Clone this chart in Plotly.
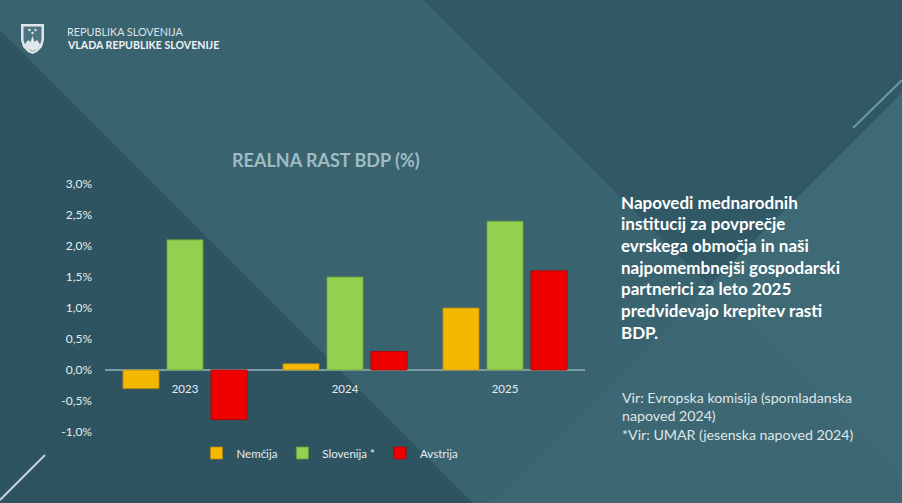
import plotly.graph_objects as go

# ---------------- data ----------------
years = ["2023", "2024", "2025"]
nemcija = [-0.3, 0.1, 1.0]
slovenija = [2.1, 1.5, 2.4]
avstrija = [-0.8, 0.3, 1.6]
series_names = ["Nemčija", "Slovenija *", "Avstrija"]
ytick_vals = [-1.0, -0.5, 0.0, 0.5, 1.0, 1.5, 2.0, 2.5, 3.0]
ytick_text = ["-1,0%", "-0,5%", "0,0%", "0,5%", "1,0%", "1,5%", "2,0%", "2,5%", "3,0%"]

title_text = "REALNA RAST BDP (%)"
header_lines = ["REPUBLIKA SLOVENIJA", "VLADA REPUBLIKE SLOVENIJE"]
side_lines = ["Napovedi mednarodnih", "institucij za povprečje", "evrskega območja in naši",
              "najpomembnejši gospodarski", "partnerici za leto 2025",
              "predvidevajo krepitev rasti", "BDP."]
source_lines = ["Vir: Evropska komisija (spomladanska", "napoved 2024)",
                "*Vir: UMAR (jesenska napoved 2024)"]

# ---------------- layout geometry ----------------
W, H = 902, 503
L, R, T, B = 105, 585, 184, 432


def px(x):
    return (x - L) / (R - L)


def py(y):
    return (B - y) / (B - T)


def poly(points):
    s = "M " + " L ".join(f"{px(x):.5f},{py(y):.5f}" for x, y in points) + " Z"
    return s


BASE = "#3a6370"
DARK = "#2f5461"
DARK2 = "#315865"
LIGHT = "#3e6a76"
LIGHT2 = "#3c6773"

fig = go.Figure()

colors = ["#f5b800", "#92d050", "#ee0000"]
lines = ["#b58a10", "#6c9a3a", "#b00000"]
for name, vals, c, lc in zip(series_names, [nemcija, slovenija, avstrija], colors, lines):
    fig.add_trace(go.Bar(
        x=years, y=vals, name=name,
        marker=dict(color=c, line=dict(color=lc, width=0.8)),
        hoverinfo="x+y+name",
    ))

shapes = []
# background polygons
shapes.append(dict(type="path", xref="paper", yref="paper", layer="below",
                   path=poly([(0, 30), (473, 503), (0, 503)]), fillcolor=DARK, line=dict(width=0)))
shapes.append(dict(type="path", xref="paper", yref="paper", layer="below",
                   path=poly([(423, 0), (902, 0), (902, 93), (709, 286)]), fillcolor=DARK2, line=dict(width=0)))
shapes.append(dict(type="path", xref="paper", yref="paper", layer="below",
                   path=poly([(709, 286), (902, 93), (902, 479)]), fillcolor=LIGHT, line=dict(width=0)))
shapes.append(dict(type="path", xref="paper", yref="paper", layer="below",
                   path=poly([(709, 286), (902, 479), (902, 503), (492, 503)]), fillcolor=LIGHT2, line=dict(width=0)))
# decorative lines
shapes.append(dict(type="line", xref="paper", yref="paper", layer="below",
                   x0=px(853), y0=py(128), x1=px(902), y1=py(80),
                   line=dict(color="#6a98a5", width=2)))
shapes.append(dict(type="line", xref="paper", yref="paper", layer="below",
                   x0=px(45), y0=py(455), x1=px(0), y1=py(500),
                   line=dict(color="#c5d3d7", width=2)))
# logo (stylised coat of arms)
shapes.append(dict(type="path", xref="paper", yref="paper", layer="below",
                   path=poly([(21, 24), (44, 24), (44, 40), (42, 47), (37, 52), (32.5, 54),
                              (28, 52), (23, 47), (21, 40)]),
                   fillcolor="#dfe7e9", line=dict(width=0)))
shapes.append(dict(type="path", xref="paper", yref="paper", layer="below",
                   path=poly([(23.5, 26.5), (41.5, 26.5), (41.5, 40), (39.5, 46), (35.5, 50), (32.5, 51.5),
                              (29.5, 50), (25.5, 46), (23.5, 40)]),
                   fillcolor="#4d7480", line=dict(width=0)))
shapes.append(dict(type="path", xref="paper", yref="paper", layer="below",
                   path=poly([(24.5, 45), (28, 40), (30.5, 42), (32.5, 36), (34.5, 42), (37, 40), (40.5, 45),
                              (37, 49), (32.5, 51), (28, 49)]),
                   fillcolor="#dfe7e9", line=dict(width=0)))
for cx, cy in [(29.5, 30), (35.5, 30), (32.5, 33)]:
    shapes.append(dict(type="circle", xref="paper", yref="paper", layer="below",
                       x0=px(cx - 1.2), x1=px(cx + 1.2), y0=py(cy - 1.2), y1=py(cy + 1.2),
                       fillcolor="#dfe7e9", line=dict(width=0)))

annotations = []
# header
annotations.append(dict(text=header_lines[0], x=px(65), y=py(31), xref="paper", yref="paper",
                        xanchor="left", yanchor="middle", showarrow=False,
                        font=dict(family="Lato", size=10.8, color="#dbe4e7")))
annotations.append(dict(text="<b>" + header_lines[1] + "</b>", x=px(65), y=py(44.5), xref="paper", yref="paper",
                        xanchor="left", yanchor="middle", showarrow=False,
                        font=dict(family="Lato", size=10.6, color="#eef3f4")))
# title
annotations.append(dict(text="<b>" + title_text + "</b>", x=px(326), y=py(160), xref="paper", yref="paper",
                        xanchor="center", yanchor="middle", showarrow=False,
                        font=dict(family="Lato", size=18, color="#9dbcc3")))
# side text
for i, s in enumerate(side_lines):
    annotations.append(dict(text="<b>" + s + "</b>", x=px(619), y=py(202 + i * 21.7), xref="paper", yref="paper",
                            xanchor="left", yanchor="middle", showarrow=False,
                            font=dict(family="Lato", size=17, color="#ffffff")))
# source text
for i, s in enumerate(source_lines):
    annotations.append(dict(text=s, x=px(620), y=py(397 + i * 18.7), xref="paper", yref="paper",
                            xanchor="left", yanchor="middle", showarrow=False,
                            font=dict(family="Lato", size=14.2, color="#dfe6e8")))

fig.update_layout(
    width=W, height=H,
    margin=dict(l=L, r=W - R, t=T, b=H - B, pad=0),
    paper_bgcolor=BASE, plot_bgcolor="rgba(0,0,0,0)",
    barmode="group", bargap=0.175, bargroupgap=0.18,
    showlegend=True,
    legend=dict(orientation="h", x=px(330), xanchor="center", y=py(453), yanchor="middle",
                bgcolor="rgba(0,0,0,0)", font=dict(family="Lato", size=11.5, color="#e6ecee"),
                itemwidth=30, traceorder="normal"),
    font=dict(family="Lato"),
    shapes=shapes, annotations=annotations,
    xaxis=dict(type="category", categoryorder="array", categoryarray=years,
               anchor="free", position=py(370), showgrid=False, zeroline=False,
               showline=True, linecolor="#7f9ba6", linewidth=2, layer="below traces",
               ticks="outside", ticklen=8, tickcolor="rgba(0,0,0,0)",
               tickfont=dict(family="Lato", size=11.5, color="#e6ecee"), fixedrange=True),
    yaxis=dict(range=[-1.0, 3.0], tickvals=ytick_vals, ticktext=ytick_text,
               showgrid=False, zeroline=False, showline=False, ticks="",
               ticklabelstandoff=12,
               tickfont=dict(family="Lato", size=12, color="#e6ecee"), fixedrange=True),
)

fig.write_html("out.html", config={"displayModeBar": False},
               post_script="document.body.style.margin='0';document.body.style.overflow='hidden';")
